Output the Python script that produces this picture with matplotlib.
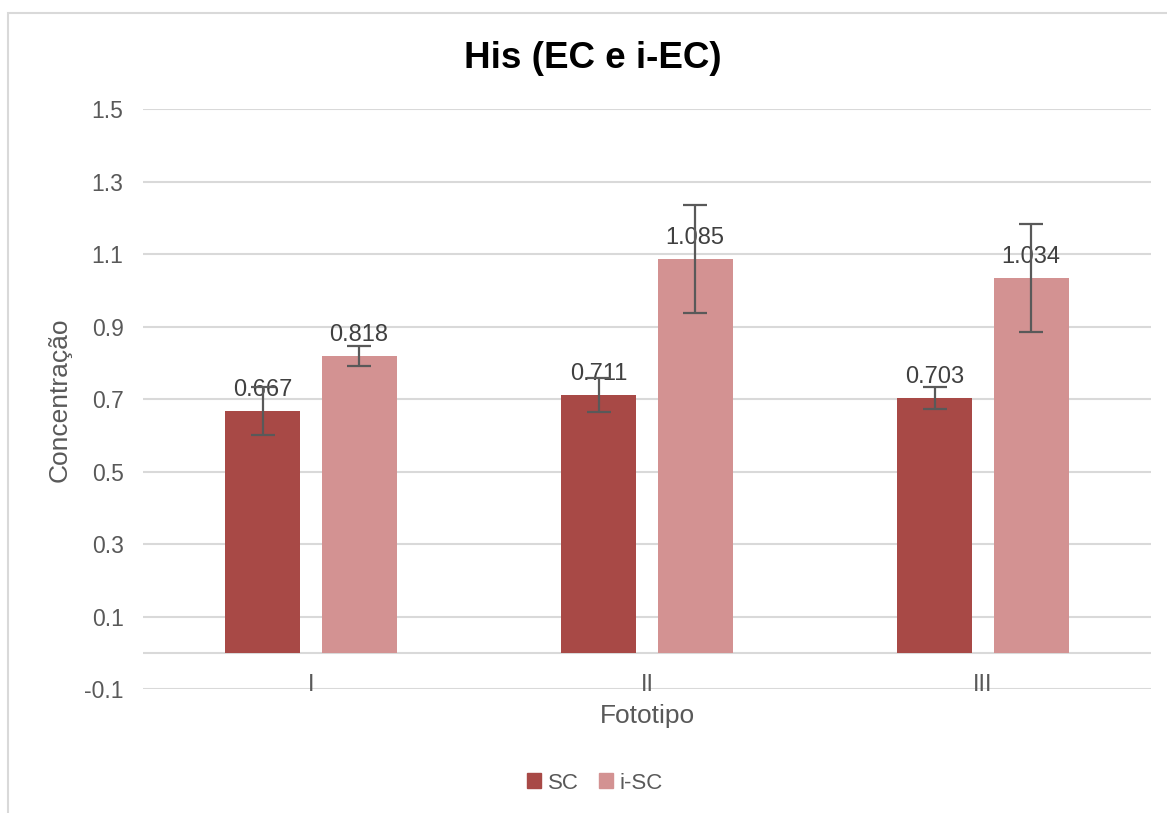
import matplotlib.pyplot as plt
import matplotlib.patches as mpatches
import numpy as np

plt.rcParams['font.family'] = ['Liberation Sans', 'DejaVu Sans']

# data
categories = ["I", "II", "III"]
series_names = ["SC", "i-SC"]
sc_values = [0.667, 0.711, 0.703]
isc_values = [0.818, 1.085, 1.034]
sc_err = [0.065, 0.047, 0.030]
isc_err = [0.028, 0.149, 0.150]
y_ticks = [-0.1, 0.1, 0.3, 0.5, 0.7, 0.9, 1.1, 1.3, 1.5]

sc_color = "#A84946"
isc_color = "#D39292"
text_color = "#595959"
grid_color = "#D9D9D9"

fig = plt.figure(figsize=(11.67, 8.13), dpi=100)
ax = fig.add_axes([143 / 1167, 1 - 689 / 813, (1151 - 143) / 1167, (689 - 109) / 813])

# outer chart frame (cropped at right/bottom like the original)
fig.patches.append(mpatches.Rectangle((8 / 1167, -0.01), 1.01, 1 - 13 / 813 + 0.01,
                                      transform=fig.transFigure, fill=False,
                                      edgecolor=grid_color, linewidth=1.5))

x = np.arange(len(categories))
w = 0.223
off = 0.143

# gridlines + horizontal axis at 0
for t in y_ticks:
    ax.axhline(t, color=grid_color, linewidth=1.5, zorder=0)
ax.axhline(0, color=grid_color, linewidth=1.5, zorder=0)

err_kw = dict(ecolor=text_color, elinewidth=1.6, capsize=8.5, capthick=1.6)
ax.bar(x - off, sc_values, w, color=sc_color, yerr=sc_err, error_kw=err_kw, zorder=2, label=series_names[0])
ax.bar(x + off, isc_values, w, color=isc_color, yerr=isc_err, error_kw=err_kw, zorder=2, label=series_names[1])

# data labels
for xi, v in zip(x - off, sc_values):
    ax.annotate(f"{v:.3f}", (xi, v), xytext=(0, 11), textcoords="offset points",
                ha="center", va="baseline", fontsize=17, color="#404040", zorder=1)
for xi, v in zip(x + off, isc_values):
    ax.annotate(f"{v:.3f}", (xi, v), xytext=(0, 11), textcoords="offset points",
                ha="center", va="baseline", fontsize=17, color="#404040", zorder=1)

# category labels below the zero line
for xi, c in zip(x, categories):
    ax.annotate(c, (xi, 0), xytext=(0, -15), textcoords="offset points",
                ha="center", va="top", fontsize=17, color=text_color)

ax.set_xlim(-0.5, 2.5)
ax.set_ylim(-0.1, 1.5)
ax.set_yticks(y_ticks)
ax.set_yticklabels([f"{t:.1f}" for t in y_ticks])
ax.set_xticks([])
ax.tick_params(axis="y", length=0, labelsize=16.5, labelcolor=text_color, pad=14)
for s in ax.spines.values():
    s.set_visible(False)

fig.text(593 / 1167, 1 - 58 / 813, "His (EC e i-EC)", ha="center", va="center",
         fontsize=26.5, fontweight="bold", color="black")
fig.text(60 / 1167, 1 - 400 / 813, "Concentração", rotation=90, ha="center", va="center",
         fontsize=19, color=text_color)
fig.text(647 / 1167, 1 - 716 / 813, "Fototipo", ha="center", va="center",
         fontsize=19, color=text_color)

handles = [mpatches.Patch(color=sc_color), mpatches.Patch(color=isc_color)]
fig.legend(handles, series_names, loc="center", bbox_to_anchor=(595 / 1167, 1 - 783 / 813),
           ncol=2, frameon=False, fontsize=16, handlelength=0.65, handleheight=0.65,
           handletextpad=0.3, columnspacing=0.9, labelcolor=text_color)

fig.savefig("out.png", dpi=100)
